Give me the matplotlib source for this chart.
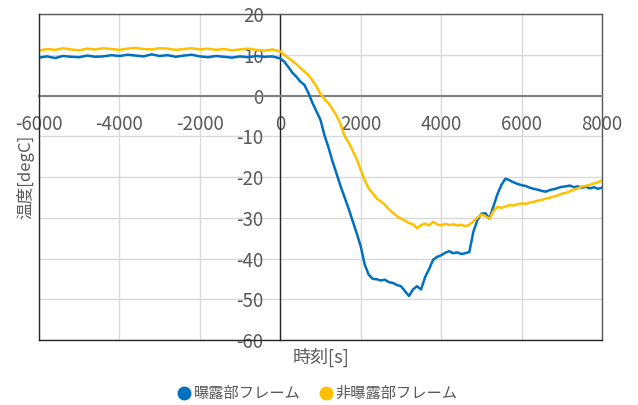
import numpy as np
import matplotlib
matplotlib.use("Agg")
import matplotlib.pyplot as plt
from matplotlib.lines import Line2D

plt.rcParams['font.family'] = ['Noto Sans CJK JP', 'DejaVu Sans']

# ── Data ──────────────────────────────────────────────────────────────────────
t_flat = list(range(-6000, 1, 200))          # -6000 .. 0, 200 s step
t_tran = list(range(100, 8001, 100))         # 100 .. 8000, 100 s step
time_s = np.array(t_flat + t_tran)

exposed_flat = [9.3, 9.6, 9.2, 9.7, 9.5, 9.4, 9.8, 9.5, 9.6, 9.9,
                9.7, 10.0, 9.8, 9.6, 10.1, 9.7, 9.9, 9.5, 9.8, 10.0,
                9.6, 9.4, 9.7, 9.5, 9.3, 9.6, 9.4, 9.7, 9.5, 9.6, 9.1]
exposed_tran = [8.3, 7.0, 5.6, 4.6, 3.4, 2.6, 0.6, -1.8, -3.9, -6.0,
                -9.8, -12.8, -16.2, -19.2, -22.3, -25.0, -27.8, -30.8, -33.8, -37.0,
                -41.5, -44.0, -45.0, -45.1, -45.4, -45.2, -45.8, -46.0, -46.5, -46.8,
                -48.0, -49.2, -47.6, -46.8, -47.6, -44.6, -42.6, -40.3, -39.6, -39.2,
                -38.6, -38.2, -38.7, -38.5, -38.9, -38.7, -38.4, -33.5, -30.6, -29.0,
                -28.9, -30.2, -27.2, -24.2, -21.9, -20.4, -20.8, -21.3, -21.7, -22.0,
                -22.2, -22.6, -22.9, -23.1, -23.4, -23.6, -23.2, -23.0, -22.7, -22.4,
                -22.3, -22.1, -22.5, -22.3, -22.6, -22.4, -22.8, -22.5, -22.9, -22.6]

shaded_flat = [11.0, 11.4, 11.2, 11.6, 11.3, 11.1, 11.5, 11.3, 11.6, 11.4,
               11.2, 11.5, 11.7, 11.4, 11.3, 11.6, 11.5, 11.2, 11.4, 11.6,
               11.3, 11.5, 11.2, 11.4, 11.1, 11.3, 11.5, 11.2, 11.0, 11.3, 10.8]
shaded_tran = [10.0, 9.2, 8.5, 7.7, 6.7, 5.9, 5.0, 3.7, 2.2, 0.4,
               -0.9, -1.9, -3.4, -5.0, -7.0, -10.0, -11.5, -13.5, -15.6, -18.3,
               -20.8, -22.8, -24.0, -25.3, -26.0, -26.8, -27.9, -28.8, -29.6, -30.2,
               -30.7, -31.3, -31.6, -32.6, -31.8, -31.4, -31.9, -31.0, -31.6, -31.9,
               -31.5, -31.8, -31.6, -31.9, -31.7, -32.1, -31.7, -30.9, -30.0, -29.2,
               -29.6, -30.3, -28.4, -27.3, -27.6, -27.2, -26.9, -27.0, -26.7, -26.5,
               -26.6, -26.3, -26.1, -25.8, -25.6, -25.3, -25.1, -24.8, -24.5, -24.1,
               -23.9, -23.5, -23.1, -22.8, -22.3, -22.2, -21.9, -21.6, -21.3, -20.8]

temp_exposed = np.array(exposed_flat + exposed_tran)
temp_shaded = np.array(shaded_flat + shaded_tran)

labels = ["曝露部フレーム", "非曝露部フレーム"]
colors = ["#0070C0", "#FFC000"]
x_ticks = list(range(-6000, 8001, 2000))
y_ticks = list(range(-60, 21, 10))

# ── Plotting ──────────────────────────────────────────────────────────────────
fig = plt.figure(figsize=(6.38, 4.05), dpi=100)
ax = fig.add_axes([0.0611, 0.1605, 0.8825, 0.8049])

ax.plot(time_s, temp_exposed, color=colors[0], linewidth=1.8, zorder=3)
ax.plot(time_s, temp_shaded, color=colors[1], linewidth=1.8, zorder=3)

ax.set_xlim(-6000, 8000)
ax.set_ylim(-60, 20)
ax.set_xticks(x_ticks)
ax.set_yticks(y_ticks)
ax.grid(True, color="#d9d9d9", linewidth=1.0, zorder=0)
ax.set_axisbelow(True)

# axes cross at origin
ax.spines['left'].set_position(('data', 0))
ax.spines['bottom'].set_position(('data', 0))
ax.spines['left'].set_color("#262626")
ax.spines['left'].set_linewidth(1.0)
ax.spines['bottom'].set_color("#808080")
ax.spines['bottom'].set_linewidth(1.5)
for side in ['top', 'right']:
    ax.spines[side].set_color("#595959")
    ax.spines[side].set_linewidth(1.0)

# plot-area frame on the left and bottom edges
ax.axvline(-6000, color="#262626", linewidth=1.0, clip_on=False, zorder=4)
ax.axhline(-60, color="#262626", linewidth=1.0, clip_on=False, zorder=4)

ax.tick_params(axis='both', length=0, labelsize=13.5, labelcolor="#595959")
ax.tick_params(axis='x', pad=13)
ax.tick_params(axis='y', pad=12)
ax.set_xticklabels([str(v) for v in x_ticks])
ax.set_yticklabels([str(v) for v in y_ticks])

fig.text(0.5027, 0.118, "時刻[s]", ha="center", va="center",
         fontsize=13, color="#595959")
fig.text(0.039, 0.563, "温度[degC]", ha="center", va="center",
         rotation=90, fontsize=12, color="#595959")

handles = [Line2D([], [], linestyle="none", marker="o", markersize=9,
                  markerfacecolor=c, markeredgecolor=c) for c in colors]
fig.legend(handles, labels, loc="center", bbox_to_anchor=(0.497, 0.028),
           ncol=2, frameon=False, fontsize=11, labelcolor="#595959",
           handletextpad=0.1, columnspacing=1.2, handlelength=1.0)

fig.savefig("out.png", dpi=100)
